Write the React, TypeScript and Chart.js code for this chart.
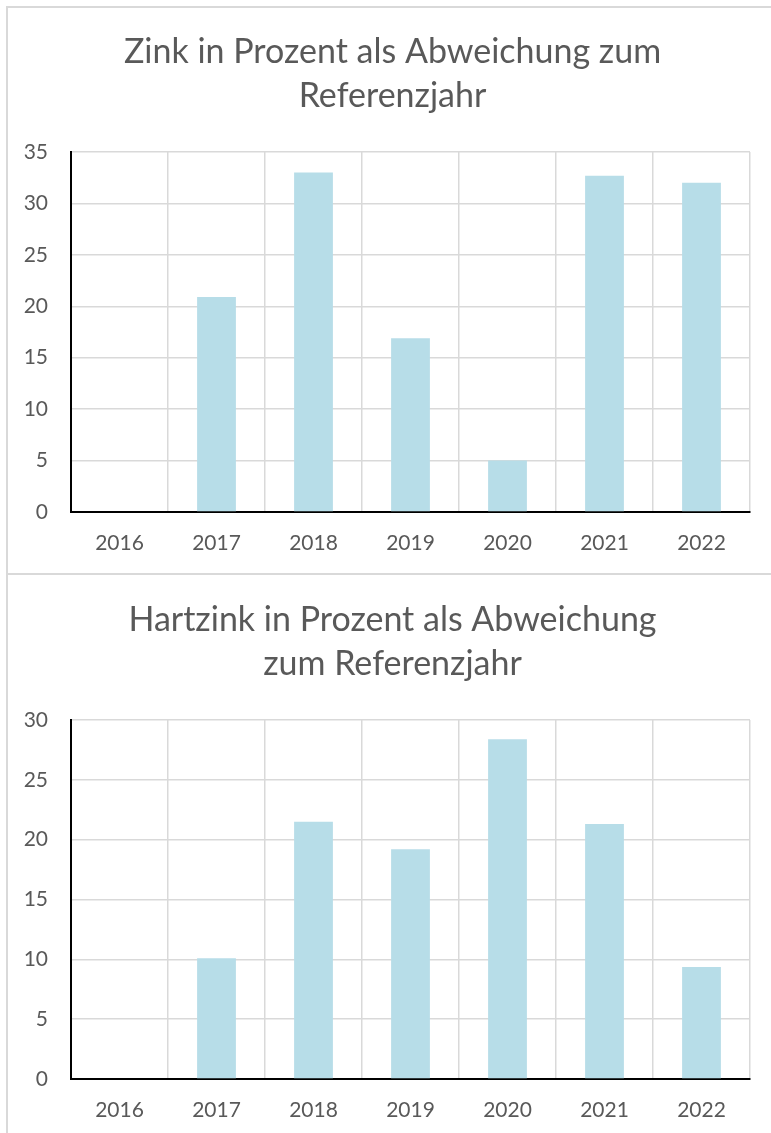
import React, { useEffect, useRef } from "react";
import { Chart, registerables } from "chart.js";

Chart.register(...registerables);

const categories = ["2016", "2017", "2018", "2019", "2020", "2021", "2022"];
const zinkValues = [0, 20.9, 33.0, 16.9, 5.0, 32.7, 32.0];
const hartzinkValues = [0, 10.1, 21.5, 19.2, 28.4, 21.3, 9.35];
const zinkTitle = ["Zink in Prozent als Abweichung zum", "Referenzjahr"];
const hartzinkTitle = ["Hartzink in Prozent als Abweichung", "zum Referenzjahr"];
const zinkMax = 35;
const hartzinkMax = 30;
const yStep = 5;

const FONT = "Lato, 'Open Sans', sans-serif";
const TEXT = "#595959";
const GRID = "#d9d9d9";
const BAR = "#b7dde8";

function BarChart(props: {
  title: string[];
  values: number[];
  max: number;
  width: number;
  height: number;
  xAxisHeight: number;
}) {
  const ref = useRef<HTMLCanvasElement | null>(null);
  useEffect(() => {
    if (!ref.current) return;
    const chart = new Chart(ref.current, {
      type: "bar",
      data: {
        labels: categories,
        datasets: [
          {
            data: props.values,
            backgroundColor: BAR,
            borderWidth: 0,
            barPercentage: 0.4,
            categoryPercentage: 1,
            yAxisID: "y",
          },
        ],
      },
      options: {
        responsive: false,
        animation: false,
        devicePixelRatio: 1,
        layout: { padding: { left: 0, right: 0, top: 0, bottom: 0 } },
        plugins: {
          legend: { display: false },
          tooltip: { enabled: false },
          title: {
            display: true,
            text: props.title,
            color: TEXT,
            font: { family: FONT, size: 34, weight: "normal", lineHeight: 44 / 34 },
            padding: { top: 22, bottom: 34 },
          },
        },
        scales: {
          x: {
            grid: { color: GRID, lineWidth: 1.5, drawTicks: false, offset: true },
            border: { display: true, color: "#000000", width: 2 },
            ticks: {
              color: TEXT,
              font: { family: FONT, size: 21 },
              padding: 19,
              maxRotation: 0,
            },
            afterFit: (scale: any) => {
              scale.height = props.xAxisHeight;
            },
          },
          y: {
            min: 0,
            max: props.max,
            grid: { color: GRID, lineWidth: 1.5, drawTicks: false },
            border: { display: true, color: "#000000", width: 2 },
            ticks: {
              stepSize: yStep,
              color: TEXT,
              font: { family: FONT, size: 21 },
              padding: 23,
            },
            afterFit: (scale: any) => {
              scale.width = 63;
            },
          },
          yRight: {
            type: "linear",
            position: "right",
            min: 0,
            max: props.max,
            grid: { display: false, drawOnChartArea: false, drawTicks: false },
            border: { display: false },
            ticks: { display: false },
            afterFit: (scale: any) => {
              scale.width = 27;
            },
          },
        },
      },
    });
    return () => chart.destroy();
  }, []);
  return (
    <canvas
      ref={ref}
      width={props.width}
      height={props.height}
      style={{ width: props.width, height: props.height, display: "block" }}
    />
  );
}

export default function App() {
  return (
    <div
      style={{
        position: "fixed",
        left: 0,
        top: 0,
        width: 771,
        height: 1133,
        overflow: "hidden",
        background: "#ffffff",
      }}
    >
      <div
        style={{
          position: "absolute",
          left: 6,
          top: 6,
          width: 800,
          height: 569,
          border: `2px solid ${GRID}`,
          boxSizing: "border-box",
        }}
      />
      <div
        style={{
          position: "absolute",
          left: 6,
          top: 573,
          width: 800,
          height: 700,
          border: `2px solid ${GRID}`,
          boxSizing: "border-box",
        }}
      />
      <div style={{ position: "absolute", left: 8, top: 8 }}>
        <BarChart title={zinkTitle} values={zinkValues} max={zinkMax} width={769} height={565} xAxisHeight={61} />
      </div>
      <div style={{ position: "absolute", left: 8, top: 576 }}>
        <BarChart
          title={hartzinkTitle}
          values={hartzinkValues}
          max={hartzinkMax}
          width={769}
          height={557}
          xAxisHeight={54}
        />
      </div>
    </div>
  );
}
